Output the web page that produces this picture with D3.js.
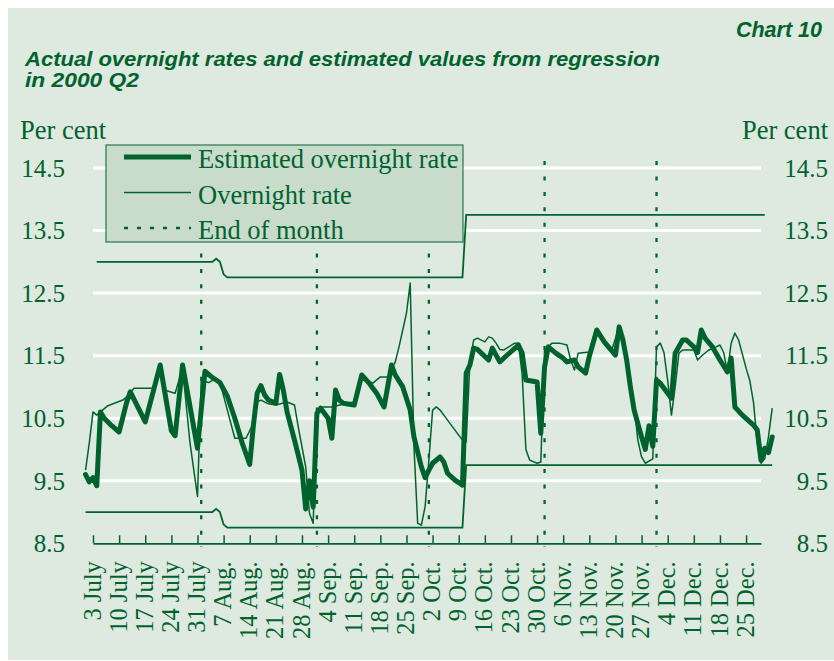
<!DOCTYPE html>
<html>
<head>
<meta charset="utf-8">
<script src="https://cdn.jsdelivr.net/npm/d3@7"></script>
<style>
  body { margin: 0; background: #fff; }
  svg { display: block; }
</style>
</head>
<body>
<div id="chart"></div>
<script>
// estimated overnight rate from regression (thick line)
const estimated = [
  ["2000-07-01", 9.6], ["2000-07-02", 9.48], ["2000-07-03", 9.55], ["2000-07-04", 9.42],
  ["2000-07-05", 10.6], ["2000-07-06", 10.5], ["2000-07-08", 10.38], ["2000-07-10", 10.28],
  ["2000-07-12", 10.75], ["2000-07-13", 10.92], ["2000-07-17", 10.44], ["2000-07-21", 11.35],
  ["2000-07-24", 10.3], ["2000-07-25", 10.22], ["2000-07-27", 11.35], ["2000-07-31", 10.02],
  ["2000-08-02", 11.25], ["2000-08-04", 11.15], ["2000-08-06", 11.07], ["2000-08-08", 10.85],
  ["2000-08-10", 10.5], ["2000-08-12", 10.1], ["2000-08-14", 9.76], ["2000-08-15", 10.4],
  ["2000-08-16", 10.9], ["2000-08-17", 11.02], ["2000-08-18", 10.87], ["2000-08-19", 10.79],
  ["2000-08-21", 10.74], ["2000-08-22", 11.2], ["2000-08-23", 10.95], ["2000-08-24", 10.6],
  ["2000-08-26", 10.15], ["2000-08-28", 9.67], ["2000-08-29", 9.05], ["2000-08-30", 9.5],
  ["2000-08-31", 9.08], ["2000-09-01", 10.58], ["2000-09-02", 10.66], ["2000-09-04", 10.5],
  ["2000-09-05", 10.18], ["2000-09-06", 10.95], ["2000-09-07", 10.79], ["2000-09-08", 10.74],
  ["2000-09-11", 10.71], ["2000-09-13", 11.19], ["2000-09-15", 11.06], ["2000-09-17", 10.9],
  ["2000-09-19", 10.68], ["2000-09-21", 11.35], ["2000-09-22", 11.19], ["2000-09-24", 11.0],
  ["2000-09-26", 10.63], ["2000-09-27", 10.2], ["2000-09-29", 9.72], ["2000-09-30", 9.55],
  ["2000-10-01", 9.67], ["2000-10-02", 9.78], ["2000-10-04", 9.88], ["2000-10-05", 9.8],
  ["2000-10-06", 9.62], ["2000-10-08", 9.51], ["2000-10-10", 9.43], ["2000-10-11", 11.22],
  ["2000-10-12", 11.35], ["2000-10-13", 11.62], ["2000-10-14", 11.6], ["2000-10-17", 11.43],
  ["2000-10-18", 11.62], ["2000-10-20", 11.4], ["2000-10-22", 11.51], ["2000-10-25", 11.67],
  ["2000-10-26", 11.54], ["2000-10-27", 11.11], ["2000-10-30", 11.08], ["2000-10-31", 10.26],
  ["2000-11-01", 11.32], ["2000-11-02", 11.64], ["2000-11-04", 11.54], ["2000-11-06", 11.46],
  ["2000-11-07", 11.4], ["2000-11-09", 11.43], ["2000-11-10", 11.32], ["2000-11-12", 11.22],
  ["2000-11-13", 11.49], ["2000-11-15", 11.91], ["2000-11-17", 11.72], ["2000-11-20", 11.51],
  ["2000-11-21", 11.96], ["2000-11-22", 11.75], ["2000-11-23", 11.43], ["2000-11-24", 11.0],
  ["2000-11-25", 10.63], ["2000-11-27", 10.2], ["2000-11-28", 10.0], ["2000-11-29", 10.38],
  ["2000-11-30", 10.05], ["2000-12-01", 11.11], ["2000-12-02", 11.06], ["2000-12-04", 10.9],
  ["2000-12-05", 10.82], ["2000-12-06", 11.54], ["2000-12-08", 11.75], ["2000-12-09", 11.75],
  ["2000-12-11", 11.64], ["2000-12-12", 11.55], ["2000-12-13", 11.91], ["2000-12-14", 11.78],
  ["2000-12-16", 11.64], ["2000-12-18", 11.43], ["2000-12-20", 11.24], ["2000-12-21", 11.46],
  ["2000-12-22", 10.68], ["2000-12-24", 10.55], ["2000-12-27", 10.39], ["2000-12-28", 10.31],
  ["2000-12-29", 9.83], ["2000-12-30", 10.02], ["2000-12-31", 9.95], ["2001-01-01", 10.2]
];

// actual overnight rate (thin line)
const overnight = [
  ["2000-07-01", 9.67], ["2000-07-02", 10.1], ["2000-07-03", 10.6], ["2000-07-04", 10.55],
  ["2000-07-05", 10.6], ["2000-07-07", 10.7], ["2000-07-11", 10.79], ["2000-07-12", 10.84],
  ["2000-07-14", 10.98], ["2000-07-19", 10.98], ["2000-07-20", 11.05], ["2000-07-21", 11.3],
  ["2000-07-22", 10.95], ["2000-07-25", 10.9], ["2000-07-27", 11.3], ["2000-07-29", 10.1],
  ["2000-07-31", 9.25], ["2000-08-01", 11.1], ["2000-08-03", 11.07], ["2000-08-05", 11.14],
  ["2000-08-06", 11.08], ["2000-08-10", 10.18], ["2000-08-13", 10.18], ["2000-08-15", 10.42],
  ["2000-08-16", 10.76], ["2000-08-17", 10.79], ["2000-08-19", 10.73], ["2000-08-21", 10.71],
  ["2000-08-24", 10.76], ["2000-08-26", 10.71], ["2000-08-27", 10.36], ["2000-08-29", 9.72],
  ["2000-08-30", 8.98], ["2000-08-31", 8.82], ["2000-09-01", 10.58], ["2000-09-02", 10.68],
  ["2000-09-05", 10.68], ["2000-09-09", 10.74], ["2000-09-11", 10.76], ["2000-09-13", 11.15],
  ["2000-09-16", 11.06], ["2000-09-18", 11.16], ["2000-09-20", 11.16], ["2000-09-22", 11.4],
  ["2000-09-23", 11.64], ["2000-09-24", 11.91], ["2000-09-25", 12.18], ["2000-09-26", 12.66],
  ["2000-09-27", 10.05], ["2000-09-28", 8.82], ["2000-09-29", 8.79], ["2000-09-30", 9.09],
  ["2000-10-01", 9.83], ["2000-10-02", 10.63], ["2000-10-03", 10.68], ["2000-10-04", 10.63],
  ["2000-10-06", 10.47], ["2000-10-08", 10.31], ["2000-10-10", 10.15], ["2000-10-11", 10.12],
  ["2000-10-12", 11.4], ["2000-10-13", 11.75], ["2000-10-14", 11.78], ["2000-10-16", 11.72],
  ["2000-10-17", 11.8], ["2000-10-18", 11.78], ["2000-10-19", 11.7], ["2000-10-20", 11.6],
  ["2000-10-21", 11.59], ["2000-10-24", 11.7], ["2000-10-25", 11.7], ["2000-10-26", 11.2],
  ["2000-10-27", 10.0], ["2000-10-28", 9.83], ["2000-10-30", 9.78], ["2000-10-31", 9.8],
  ["2000-11-01", 11.59], ["2000-11-03", 11.7], ["2000-11-05", 11.7], ["2000-11-07", 11.67],
  ["2000-11-08", 11.43], ["2000-11-09", 11.27], ["2000-11-10", 11.54], ["2000-11-13", 11.56],
  ["2000-11-14", 11.7], ["2000-11-15", 11.86], ["2000-11-17", 11.75], ["2000-11-19", 11.59],
  ["2000-11-21", 11.96], ["2000-11-22", 11.78], ["2000-11-24", 11.1], ["2000-11-25", 10.7],
  ["2000-11-26", 10.15], ["2000-11-27", 9.88], ["2000-11-28", 9.78], ["2000-11-30", 9.85],
  ["2000-12-01", 11.64], ["2000-12-02", 11.7], ["2000-12-03", 11.55], ["2000-12-04", 11.1],
  ["2000-12-05", 10.55], ["2000-12-06", 11.0], ["2000-12-07", 11.54], ["2000-12-08", 11.59],
  ["2000-12-11", 11.59], ["2000-12-12", 11.43], ["2000-12-13", 11.49], ["2000-12-15", 11.59],
  ["2000-12-17", 11.64], ["2000-12-18", 11.67], ["2000-12-19", 11.55], ["2000-12-20", 11.24],
  ["2000-12-21", 11.7], ["2000-12-22", 11.86], ["2000-12-23", 11.75], ["2000-12-25", 11.3],
  ["2000-12-26", 11.1], ["2000-12-27", 10.75], ["2000-12-28", 10.1], ["2000-12-29", 9.78],
  ["2000-12-30", 9.85], ["2000-12-31", 10.2], ["2001-01-01", 10.66]
];

// interest rate corridor
const corridorUpper = [
  ["2000-07-04", 13.0], ["2000-08-04", 13.0], ["2000-08-05", 13.05], ["2000-08-06", 13.0],
  ["2000-08-07", 12.8], ["2000-08-08", 12.75], ["2000-10-10", 12.75], ["2000-10-11", 13.75],
  ["2000-12-30", 13.75]
];
const corridorLower = [
  ["2000-07-01", 9.0], ["2000-08-04", 9.0], ["2000-08-05", 9.05], ["2000-08-06", 9.0],
  ["2000-08-07", 8.8], ["2000-08-08", 8.75], ["2000-10-10", 8.75], ["2000-10-11", 9.75],
  ["2001-01-01", 9.75]
];

const monthBreaks = ["2000-08-01", "2000-09-01", "2000-10-01", "2000-11-01", "2000-12-01"];

const yTicks = [8.5, 9.5, 10.5, 11.5, 12.5, 13.5, 14.5];
const tickLabels = [
  "3 July", "10 July", "17 July", "24 July", "31 July", "7 Aug.", "14 Aug.", "21 Aug.",
  "28 Aug.", "4 Sep.", "11 Sep.", "18 Sep.", "25 Sep.", "2 Oct.", "9 Oct.", "16 Oct.",
  "23 Oct.", "30 Oct.", "6 Nov.", "13 Nov.", "20 Nov.", "27 Nov.", "4 Dec.", "11 Dec.",
  "18 Dec.", "25 Dec."
];
const legendItems = ["Estimated overnight rate", "Overnight rate", "End of month"];

const W = 834, H = 661;
const green = "#00632e";
const bg = "#dee9df";
const serif = "'Liberation Serif', 'Times New Roman', serif";
const sans = "'Liberation Sans', Arial, sans-serif";

const parse = d3.timeParse("%Y-%m-%d");
const toPoints = arr => arr.map(d => ({ date: parse(d[0]), value: d[1] }));

const svg = d3.select("#chart").append("svg")
  .attr("width", W)
  .attr("height", H);

svg.append("rect").attr("width", W).attr("height", H).attr("fill", "#fff");
svg.append("rect")
  .attr("x", 8).attr("y", 8)
  .attr("width", W - 8).attr("height", H - 9)
  .attr("fill", bg);

// titles
svg.append("text")
  .attr("x", 822).attr("y", 37)
  .attr("text-anchor", "end")
  .attr("font-family", sans).attr("font-style", "italic").attr("font-weight", "bold")
  .attr("font-size", 21.5).attr("fill", green)
  .text("Chart 10");

let title = svg.append("text")
  .attr("font-family", sans).attr("font-style", "italic").attr("font-weight", "bold")
  .attr("font-size", 21).attr("fill", green);
title.append("tspan").attr("x", 25).attr("y", 66)
  .attr("textLength", 635).attr("lengthAdjust", "spacingAndGlyphs")
  .text("Actual overnight rates and estimated values from regression");
title.append("tspan").attr("x", 25).attr("y", 87)
  .attr("textLength", 114).attr("lengthAdjust", "spacingAndGlyphs")
  .text("in 2000 Q2");

// scales
let x = d3.scaleTime()
  .domain([parse("2000-07-03"), parse("2000-12-29")])
  .range([93, 761]);
let y = d3.scaleLinear()
  .domain([8.5, 14.5])
  .range([543.3, 168]);

// gridlines
svg.append("g").selectAll("line")
  .data(yTicks.filter(v => v > 8.5))
  .enter().append("line")
  .attr("x1", x.range()[0]).attr("x2", x.range()[1])
  .attr("y1", d => y(d)).attr("y2", d => y(d))
  .attr("stroke", "#fff").attr("stroke-width", 3);

// y labels both sides
let yl = svg.append("g")
  .attr("font-family", serif).attr("font-size", 25).attr("fill", green);
yl.selectAll(".yl").data(yTicks).enter().append("text")
  .attr("x", 65).attr("y", d => y(d)).attr("dy", "0.35em")
  .attr("text-anchor", "end").text(d => d.toFixed(1));
yl.selectAll(".yr").data(yTicks).enter().append("text")
  .attr("x", 828).attr("y", d => y(d)).attr("dy", "0.35em")
  .attr("text-anchor", "end").text(d => d.toFixed(1));
yl.append("text").attr("x", 20).attr("y", 139).attr("font-size", 26.5).text("Per cent");
yl.append("text").attr("x", 828).attr("y", 139).attr("font-size", 26.5)
  .attr("text-anchor", "end").text("Per cent");

// end of month markers
svg.append("g").selectAll("line")
  .data(monthBreaks.map(parse))
  .enter().append("line")
  .attr("x1", d => x(d)).attr("x2", d => x(d))
  .attr("y1", y(14.61)).attr("y2", y(8.45))
  .attr("stroke", green).attr("stroke-width", 2.3)
  .attr("stroke-dasharray", "4,11.4");

let line = d3.line()
  .x(d => x(d.date))
  .y(d => y(d.value));

// corridor
[corridorUpper, corridorLower].forEach(c => {
  svg.append("path")
    .datum(toPoints(c))
    .attr("d", line)
    .attr("fill", "none")
    .attr("stroke", green).attr("stroke-width", 1.8);
});

// series
svg.append("path")
  .datum(toPoints(estimated))
  .attr("d", line)
  .attr("fill", "none")
  .attr("stroke", green).attr("stroke-width", 5)
  .attr("stroke-linejoin", "round").attr("stroke-linecap", "round");

svg.append("path")
  .datum(toPoints(overnight))
  .attr("d", line)
  .attr("fill", "none")
  .attr("stroke", green).attr("stroke-width", 1.5)
  .attr("stroke-linejoin", "round");

// x axis
let tickDates = d3.timeMonday.range(parse("2000-07-03"), parse("2000-12-26"));
let xAxis = d3.axisBottom(x)
  .tickValues(tickDates)
  .tickFormat((d, i) => tickLabels[i])
  .tickSize(-8)
  .tickSizeOuter(0);

let gx = svg.append("g")
  .attr("transform", `translate(0,${y(8.5)})`)
  .call(xAxis);
gx.select(".domain").attr("stroke", green).attr("stroke-width", 1.8);
gx.selectAll(".tick line").attr("stroke", green).attr("stroke-width", 1.5);
gx.selectAll(".tick text")
  .attr("font-family", serif).attr("font-size", 24.5).attr("fill", green)
  .attr("transform", "rotate(-90)")
  .attr("text-anchor", "end")
  .attr("x", -18).attr("y", -1).attr("dy", "0.33em");

// legend
let lg = svg.append("g");
lg.append("rect")
  .attr("x", 106).attr("y", 145).attr("width", 357).attr("height", 97)
  .attr("fill", "#c9dccc").attr("stroke", green).attr("stroke-width", 1);
let legendStyles = [
  { w: 5, dash: null },
  { w: 1.5, dash: null },
  { w: 2.3, dash: "4,9" }
];
legendItems.forEach((name, i) => {
  let ly = 157 + i * 35.5;
  lg.append("line")
    .attr("x1", 124).attr("x2", 191).attr("y1", ly).attr("y2", ly)
    .attr("stroke", green).attr("stroke-width", legendStyles[i].w)
    .attr("stroke-dasharray", legendStyles[i].dash);
  lg.append("text")
    .attr("x", 198).attr("y", ly + 11)
    .attr("font-family", serif).attr("font-size", 26.5).attr("fill", green)
    .text(name);
});
</script>
</body>
</html>
